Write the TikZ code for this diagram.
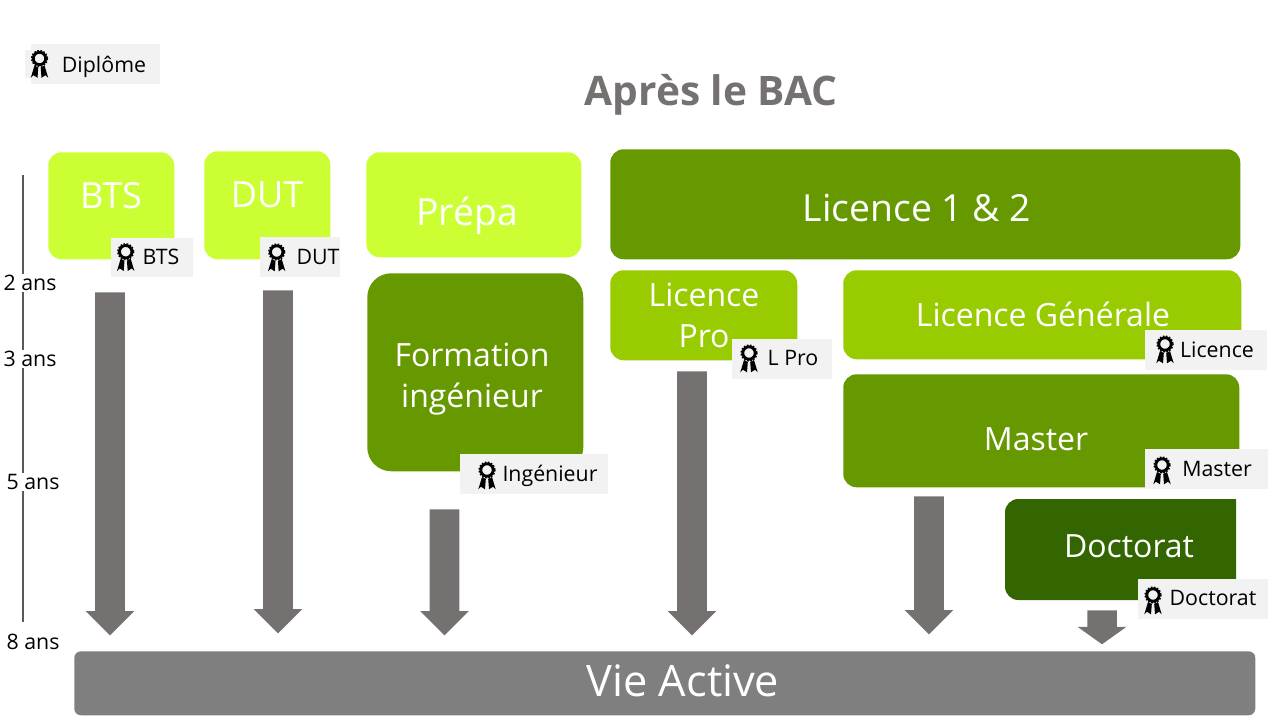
\documentclass[tikz,border=0pt]{standalone}
\usepackage{fontspec}
\setmainfont{Open Sans}
\usetikzlibrary{shapes.arrows}

\definecolor{lightlime}{HTML}{CCFF33}
\definecolor{midgreen}{HTML}{669900}
\definecolor{lightgreen}{HTML}{99CC00}
\definecolor{darkgreen}{HTML}{336600}
\definecolor{arrowgrey}{HTML}{767171}
\definecolor{viegrey}{HTML}{7F7F7F}
\definecolor{badgegrey}{HTML}{F2F2F2}

\tikzset{
  size/.style 2 args={minimum width=#1*0.75pt, minimum height=#2*0.75pt},
  stage/.style={anchor=north west, inner sep=0pt, rounded corners=10pt},
  stagetext/.style={text=white, align=center, inner sep=0pt},
  badge/.style={anchor=north west, inner sep=0pt, fill=badgegrey},
  badgetext/.style={font=\fontsize{16}{19}\selectfont, text=black, inner sep=0pt},
  yeartext/.style={font=\fontsize{16}{19}\selectfont, text=black, fill=white, inner sep=1pt},
  downarrow/.style={single arrow, shape border rotate=270, fill=arrowgrey, anchor=tail,
    inner xsep=10.875pt, inner ysep=0pt, minimum width=36pt, single arrow head extend=7.125pt},
  ribbon/.pic={
    \draw[black, line width=2.1pt] (0,0) circle (6.2);
    \draw[black, line width=1pt, dash pattern=on 1.2pt off 1.2pt] (0,0) circle (8);
    \fill[black] (-5,7) -- (-8.7,19.3) -- (-6,16.7) -- (-2,19.3) -- (-1.2,9) -- cycle;
    \fill[black] (5,7) -- (8.7,19.3) -- (6,16.7) -- (2,19.3) -- (1.2,9) -- cycle;
  }
}

\begin{document}
\begin{tikzpicture}[x=0.75pt, y=-0.75pt]
\useasboundingbox (0,0) rectangle (1280,720);

% Title and legend
\node[font=\fontsize{30.5}{36}\selectfont\bfseries, text=arrowgrey, inner sep=0pt] (title) at (711,95) {Après le BAC};
\fill[badgegrey] (25,50) rectangle (31,78);
\node[badge, size={129}{40}] (legend) at (31,44) {};
\pic at (39.5,58.5) {ribbon};
\node[badgetext] (legendtext) at (104,67) {Diplôme};

% Time axis
\coordinate (axistop) at (23,175);
\coordinate (axisend) at (23,622);
\draw[black!65, line width=1.5pt] (axistop) -- (axisend);
\node[yeartext] (year2) at (30,283) {2 ans};
\node[yeartext] (year3) at (30,359) {3 ans};
\node[yeartext] (year5) at (33,482) {5 ans};
\node[yeartext] (year8) at (33,642) {8 ans};

% Down arrows
\node[downarrow, minimum height=257.25pt] (arrowbts) at (110,292) {};
\node[downarrow, minimum height=257.25pt] (arrowdut) at (278,290) {};
\node[downarrow, minimum height=94.5pt] (arrowinge) at (444.5,509) {};
\node[downarrow, minimum height=198pt] (arrowlpro) at (692,371) {};
\node[downarrow, minimum height=103.5pt] (arrowmaster) at (929,496) {};
\node[downarrow, single arrow tip angle=109, minimum height=25.5pt] (arrowdoc) at (1102,610) {};

% Stage boxes
\node[stage, fill=lightlime, size={126}{107}] (bts) at (48,152) {};
\node[stage, fill=lightlime, size={126}{108}] (dut) at (204,151) {};
\node[stage, fill=lightlime, size={215}{105}] (prepa) at (366,152) {};
\node[stage, fill=midgreen, size={630}{110}] (licence) at (610,149) {};
\node[stage, fill=midgreen, size={216}{198}, rounded corners=18pt] (inge) at (367,273) {};
\node[stage, fill=lightgreen, size={187}{90}] (lpro) at (610,270) {};
\node[stage, fill=lightgreen, size={398}{89}] (lgen) at (843,270) {};
\node[stage, fill=midgreen, size={396}{113}] (master) at (843,374) {};
\fill[darkgreen, rounded corners=10pt] (1236,499) -- (1005,499) -- (1005,600) -- (1120,600) [sharp corners] -- (1236,600) -- cycle;
\node[stage, fill=viegrey, size={1181}{64}, rounded corners=5pt] (vie) at (74,651) {};

% Box texts
\node[stagetext, font=\fontsize{27}{32}\selectfont] (btstext) at (111,196) {BTS};
\node[stagetext, font=\fontsize{27}{32}\selectfont] (duttext) at (267,195) {DUT};
\node[stagetext, font=\fontsize{28}{32}\selectfont] (prepatext) at (467,216) {Prépa};
\node[stagetext, font=\fontsize{28}{32}\selectfont] (licencetext) at (917,208) {Licence 1 \& 2};
\node[stagetext, font=\fontsize{24}{30.75}\selectfont] (ingetext) at (472,379) {Formation\\ingénieur};
\node[stagetext, font=\fontsize{24}{30.75}\selectfont] (lprotext) at (704,315) {Licence\\Pro};
\node[stagetext, font=\fontsize{24}{30}\selectfont] (lgentext) at (1043,314) {Licence Générale};
\node[stagetext, font=\fontsize{24}{30}\selectfont] (mastertext) at (1036,439) {Master};
\node[stagetext, font=\fontsize{24}{30}\selectfont] (doctext) at (1129,546) {Doctorat};
\node[stagetext, font=\fontsize{32.5}{36}\selectfont] (vietext) at (683,681) {Vie Active};

% Diploma badges
\node[badge, size={82}{39}] (badgebts) at (111,238) {};
\pic at (125.7,251.7) {ribbon};
\node[badgetext] at (161,257) {BTS};
\node[badge, size={80}{40}] (badgedut) at (260,237) {};
\pic at (276.7,252) {ribbon};
\node[badgetext] at (318,257) {DUT};
\node[badge, size={148}{40}] (badgeinge) at (460,454) {};
\pic at (487,470) {ribbon};
\node[badgetext] at (550,476) {Ingénieur};
\node[badge, size={100}{40}] (badgelpro) at (732,339) {};
\pic at (749,353) {ribbon};
\node[badgetext] at (793,358) {L Pro};
\node[badge, size={122}{40}] (badgelgen) at (1145,330) {};
\pic at (1165,344) {ribbon};
\node[badgetext] at (1217,350) {Licence};
\node[badge, size={123}{40}] (badgemaster) at (1145,449) {};
\pic at (1162,465) {ribbon};
\node[badgetext] at (1217,469) {Master};
\node[badge, size={130}{40}] (badgedoc) at (1138,579) {};
\pic at (1153,595) {ribbon};
\node[badgetext] at (1213,598) {Doctorat};

\end{tikzpicture}
\end{document}
